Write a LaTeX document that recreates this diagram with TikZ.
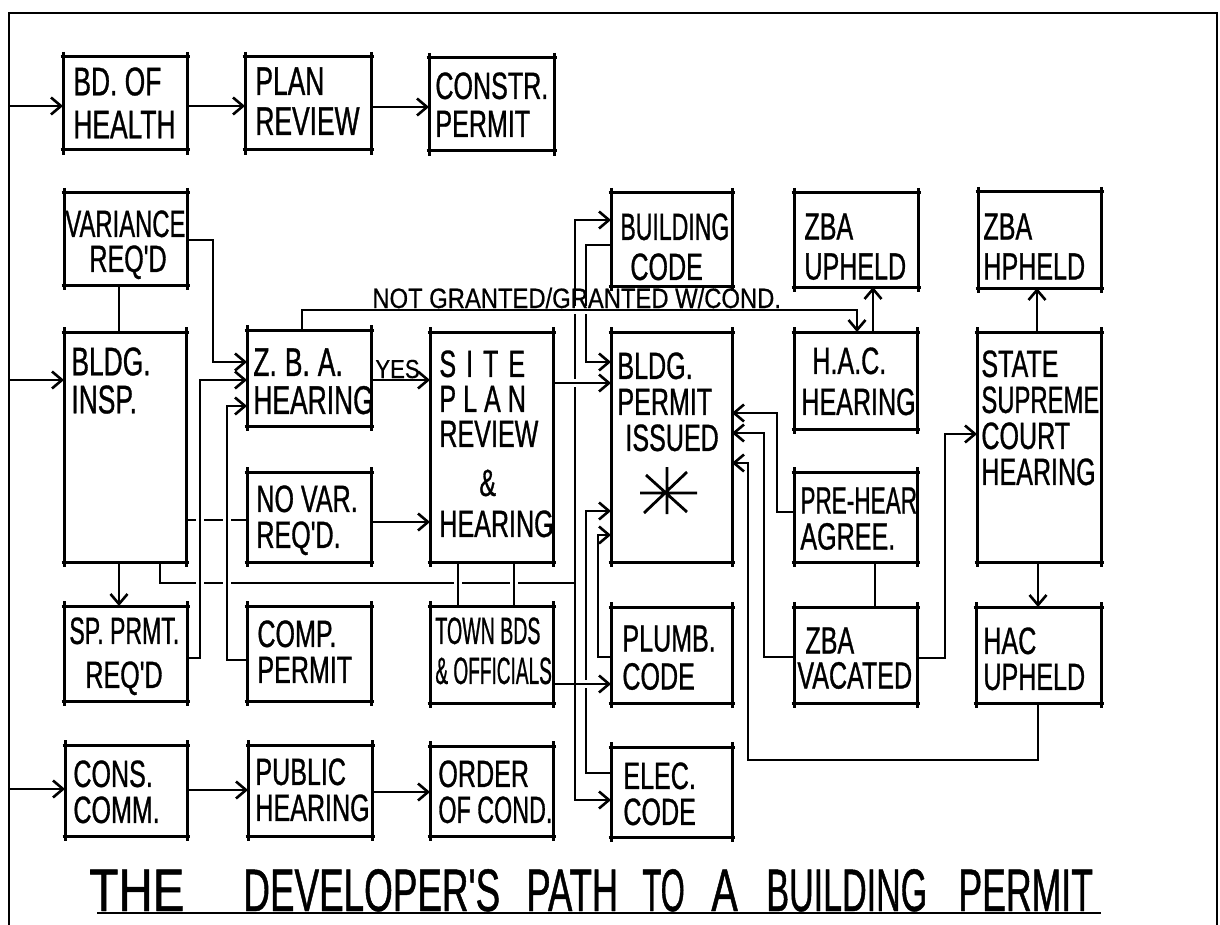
\documentclass[tikz,border=0pt]{standalone}
\usepackage{fontspec}
\newfontfamily\hand[FakeStretch=0.66,FakeBold=0.8]{Liberation Sans}
\newfontfamily\handw[FakeStretch=0.85,FakeBold=0.6]{Liberation Sans}
\usetikzlibrary{arrows.meta,fit,calc}
\pgfdeclarelayer{front}
\pgfsetlayers{main,front}
\tikzset{
  box/.style={draw, line width=1.5pt, inner sep=0pt, outer sep=0pt},
  edgeline/.style={line width=1.5pt},
  txt/.style={font=\hand\fontsize{19}{19}\selectfont, align=left, inner sep=0pt, anchor=north west},
  smalltxt/.style={font=\handw\fontsize{14}{14}\selectfont, inner sep=0pt, anchor=base west},
  conn/.style={line width=1.25pt},
  arr/.style={conn, -{Straight Barb[length=5pt,width=8.5pt,line width=1.3pt]}},
  over/.style={preaction={draw=white, line width=3.6pt, arrows=-}},
  frameline/.style={line width=1.2pt},
}
\newcommand\bx[5]{%
  \node[box, fit={(#2,#3) (#4,#5)}] (#1) {};
  \draw[edgeline] (#2-2.5,#3) -- (#4+2.5,#3) (#2-2.5,#5) -- (#4+2.5,#5)
    (#2,#3-5) -- (#2,#5+5) (#4,#3-5) -- (#4,#5+5);
}
\begin{document}
\begin{tikzpicture}[x=0.5pt,y=-0.5pt]
\useasboundingbox (0,0) rectangle (1220,925);
% frame
\draw[frameline] (9,925) -- (9,13) -- (1217,13) -- (1217,925);

\begin{pgfonlayer}{front}
\bx{bdh}{63}{57}{187}{150}
\bx{planr}{245}{57}{371}{150}
\bx{constr}{429}{58}{554}{151}
\bx{var}{64}{193}{187}{285}
\bx{bins}{64}{332}{186}{562}
\bx{zba}{247}{330}{371}{426}
\bx{novar}{247}{472}{371}{562}
\bx{site}{430}{332}{553}{562}
\bx{spr}{64}{606}{187}{701}
\bx{comp}{247}{606}{371}{701}
\bx{town}{430}{606}{553}{703}
\bx{cons}{65}{745}{187}{836}
\bx{pubh}{248}{745}{372}{836}
\bx{order}{430}{746}{553}{836}
\bx{bcode}{611}{193}{732}{286}
\bx{zbaup}{794}{193}{918}{287}
\bx{zbahp}{978}{192}{1101}{288}
\bx{bperm}{611}{332}{732}{562}
\bx{hac}{794}{332}{917}{429}
\bx{pre}{794}{472}{917}{562}
\bx{state}{977}{332}{1101}{562}
\bx{plumb}{611}{607}{732}{703}
\bx{zbav}{794}{607}{917}{703}
\bx{hacup}{976}{607}{1101}{703}
\bx{elec}{611}{747}{732}{837}

% texts
\node[txt, font=\hand\fontsize{20}{21.5}\selectfont] (t-bdh) at (73,67) {BD. OF\\HEALTH};
\node[txt, font=\hand\fontsize{20}{20}\selectfont] (t-planr) at (255,67) {PLAN\\REVIEW};
\node[txt] (t-constr) at (435,72) {CONSTR.\\PERMIT};
\node[txt, font=\hand\fontsize{19}{17.5}\selectfont] (t-var) at (65,210) {\scalebox{0.95}[1]{VARIANCE}\\\hspace{12pt}REQ'D};
\node[txt, font=\hand\fontsize{20}{19}\selectfont] (t-bins) at (71,347) {BLDG.\\INSP.};
\node[txt, font=\hand\fontsize{20}{19}\selectfont] (t-zba) at (253,348) {Z.\hspace{4pt}B.\hspace{4pt}A.\\HEARING};
\node[txt, font=\hand\fontsize{19}{18}\selectfont] (t-novar) at (256,485) {NO VAR.\\REQ'D.};
\node[txt, font=\hand\fontsize{19}{17.5}\selectfont] (t-site) at (439,350)
  {S\hspace{5pt}I\hspace{5pt}T\hspace{5pt}E\\P\hspace{3.5pt}L\hspace{3.5pt}A\hspace{3.5pt}N\\REVIEW\\[7pt]\hspace{20pt}\&\\[3pt]HEARING};
\node[txt, font=\hand\fontsize{19}{18}\selectfont] (t-bperm) at (617,352) {BLDG.\\PERMIT\\\hspace{4pt}ISSUED};
\node[txt, font=\hand\fontsize{19}{20.5}\selectfont] (t-hac) at (801,347) {\hspace{5.5pt}H.A.C.\\HEARING};
\node[txt, font=\hand\fontsize{19}{18}\selectfont] (t-pre) at (800,487) {\scalebox{0.9}[1]{PRE-HEAR}\\AGREE.};
\node[txt, font=\hand\fontsize{19}{18}\selectfont] (t-state) at (981,350) {STATE\\\scalebox{0.95}[1]{SUPREME}\\COURT\\HEARING};
\node[txt, font=\hand\fontsize{19}{20}\selectfont] (t-bcode) at (620,213) {\scalebox{0.92}[1]{BUILDING}\\\hspace{5pt}CODE};
\node[txt, font=\hand\fontsize{19}{20}\selectfont] (t-zbaup) at (804,213) {ZBA\\UPHELD};
\node[txt, font=\hand\fontsize{19}{20}\selectfont] (t-zbahp) at (983,213) {ZBA\\HPHELD};
\node[txt] (t-plumb) at (622,625) {PLUMB.\\CODE};
\node[txt, font=\hand\fontsize{19}{17.5}\selectfont] (t-zbav) at (797,627) {\hspace{4pt}ZBA\\VACATED};
\node[txt, font=\hand\fontsize{19}{18}\selectfont] (t-hacup) at (983,627) {HAC\\UPHELD};
\node[txt, font=\hand\fontsize{19}{18}\selectfont] (t-elec) at (623,762) {ELEC.\\CODE};
\node[txt, font=\hand\fontsize{19}{22}\selectfont] (t-spr) at (69,617) {\scalebox{0.92}[1]{SP. PRMT.}\\\hspace{8pt}REQ'D};
\node[txt, font=\hand\fontsize{19}{18}\selectfont] (t-comp) at (257,620) {COMP.\\PERMIT};
\node[txt, font=\hand\fontsize{19}{20}\selectfont] (t-town) at (435,617) {\scalebox{0.78}[1]{TOWN BDS}\\\scalebox{0.76}[1]{\& OFFICIALS}};
\node[txt, font=\hand\fontsize{19}{18}\selectfont] (t-cons) at (73,760) {CONS.\\COMM.};
\node[txt, font=\hand\fontsize{19}{18}\selectfont] (t-pubh) at (255,758) {PUBLIC\\HEARING};
\node[txt, font=\hand\fontsize{19}{18}\selectfont] (t-order) at (438,760) {ORDER\\\scalebox{0.93}[1]{OF COND.}};

% asterisk
\draw[line width=1.4pt] (640,493) -- (697,493) (667,467) -- (667,514)
  (644,513) -- (687,472) (646,475) -- (687,512);

% labels
\node[smalltxt] (ng) at (372,308) {NOT GRANTED/GRANTED W/COND.};
\node[smalltxt, font=\handw\fontsize{13}{13}\selectfont] (yes) at (375,378) {YES};
\node[font=\hand\fontsize{30}{30}\selectfont, anchor=base west, inner sep=0pt] (title) at (89,911)
  {\makebox[77pt][l]{\scalebox{1.2}[1]{THE}}\makebox[141.5pt][l]{\scalebox{0.93}[1]{DEVELOPER'S}}\makebox[58pt][l]{\scalebox{0.92}[1]{PATH}}\makebox[34.5pt][l]{\scalebox{0.78}[1]{TO}}\makebox[27.5pt][l]{A}\makebox[96pt][l]{\scalebox{0.86}[1]{BUILDING}}\scalebox{0.9}[1]{PERMIT}};
\end{pgfonlayer}

\draw[frameline] (97,913) -- (1101,913);

% frame entries
\coordinate (fa) at (9,106);
\coordinate (fb) at (9,380);
\coordinate (fc) at (9,789);
\draw[arr] (fa) -- (bdh.west |- fa);
\draw[arr] (fb) -- (bins.west |- fb);
\draw[arr] (fc) -- (cons.west |- fc);
\draw[arr] (bdh.east |- 0,106) -- (planr.west |- 0,106);
\draw[arr] (planr.east |- 0,107) -- (constr.west |- 0,107);
\draw[arr] (cons.east |- 0,790) -- (pubh.west |- 0,790);
\draw[arr] (pubh.east |- 0,792) -- (order.west |- 0,792);

% left cluster
\draw[arr] (var.east |- 0,240) -- (213,240) -- (213,362) -- (zba.west |- 0,362);
\draw[conn] (var.south -| 119,0) -- (bins.north -| 119,0);
\draw[arr] (bins.south -| 119,0) -- (spr.north -| 119,0);
\coordinate (bus) at (575,583);
\draw[conn] (bins.south -| 160,0) -- (160,583) -- (bus);
\draw[conn] (bins.east |- 0,520) -- (novar.west |- 0,520);
\draw[arr, over] (spr.east |- 0,658) -- (200,658) -- (200,380) -- (zba.west |- 0,380);
\draw[arr, over] (comp.west |- 0,660) -- (227,660) -- (227,406) -- (zba.west |- 0,406);
\draw[conn, over] (site.south -| 458,0) -- (town.north -| 458,0);
\draw[conn, over] (site.south -| 514,0) -- (town.north -| 514,0);
\draw[arr] (zba.east |- 0,380) -- (site.west |- 0,380);
\draw[arr] (novar.east |- 0,522) -- (site.west |- 0,522);

% code lines into permit
\draw[arr] (elec.west |- 0,773) -- (586,773) -- (586,511) -- (bperm.west |- 0,511);
\draw[arr] (plumb.west |- 0,657) -- (598,657) -- (598,535) -- (bperm.west |- 0,535);
\draw[arr] (bcode.west |- 0,245) -- (586,245) -- (586,362) -- (bperm.west |- 0,362);
\draw[arr, over] (town.east |- 0,684) -- (plumb.west |- 0,684);
\draw[arr] (bus) |- (bcode.west |- 0,220);
\draw[arr] (bus) |- (elec.west |- 0,800);
\draw[arr, over] (site.east |- 0,383) -- (bperm.west |- 0,383);
\draw[arr, over] (zba.north -| 302,0) -- (302,310) -- (857,310) -- (hac.north -| 857,0);

% right cluster
\draw[arr] (hac.north -| 873,0) -- (zbaup.south -| 873,0);
\draw[arr] (state.north -| 1037,0) -- (zbahp.south -| 1037,0);
\draw[arr] (state.south -| 1038,0) -- (hacup.north -| 1038,0);
\draw[conn] (pre.south -| 875,0) -- (zbav.north -| 875,0);
\draw[arr] (zbav.east |- 0,658) -- (945,658) -- (945,434) -- (state.west |- 0,434);
\draw[arr] (zbav.west |- 0,657) -- (764,657) -- (764,433) -- (bperm.east |- 0,433);
\draw[arr] (pre.west |- 0,512) -- (777,512) -- (777,413) -- (bperm.east |- 0,413);
\draw[arr] (hacup.south -| 1038,0) -- (1038,760) -- (748,760) -- (748,463) -- (bperm.east |- 0,463);
\end{tikzpicture}
\end{document}
